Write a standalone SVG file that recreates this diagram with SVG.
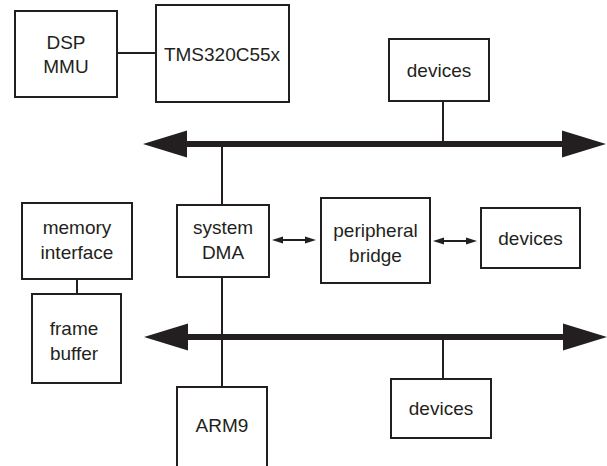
<svg xmlns="http://www.w3.org/2000/svg" width="607" height="466" viewBox="0 0 607 466">
<style>
.box{fill:#fff;stroke:#231f20;stroke-width:2}
.ln{stroke:#231f20;stroke-width:2;fill:none}
.bus{stroke:#231f20;stroke-width:6;fill:none}
text{font-family:"Liberation Sans",Arial,sans-serif;font-size:19px;fill:#231f20;text-anchor:middle}
</style>
<defs>
<marker id="big" markerUnits="userSpaceOnUse" markerWidth="46" markerHeight="28" refX="0" refY="13.5" orient="auto-start-reverse" overflow="visible">
<path d="M0,0 L44,13.5 L0,27 Z" fill="#231f20"/>
</marker>
<marker id="small" markerUnits="userSpaceOnUse" markerWidth="12" markerHeight="8" refX="0" refY="3.5" orient="auto-start-reverse" overflow="visible">
<path d="M0,0 L11,3.5 L0,7 Z" fill="#231f20"/>
</marker>
</defs>
<g id="connectors">
<line class="ln" x1="117" y1="53" x2="156" y2="53"/>
<line class="ln" x1="443" y1="101" x2="443" y2="144"/>
<line class="ln" x1="222" y1="144" x2="222" y2="205"/>
<line class="ln" x1="222" y1="277" x2="222" y2="387"/>
<line class="ln" x1="443" y1="337" x2="443" y2="379"/>
<line class="ln" x1="77" y1="279" x2="77" y2="294"/>
<line class="bus" x1="187" y1="144" x2="562" y2="144" marker-start="url(#big)" marker-end="url(#big)"/>
<line class="bus" x1="188" y1="337" x2="563" y2="337" marker-start="url(#big)" marker-end="url(#big)"/>
<line class="ln" x1="283" y1="240" x2="305" y2="240" marker-start="url(#small)" marker-end="url(#small)"/>
<line class="ln" x1="444" y1="241" x2="466" y2="241" marker-start="url(#small)" marker-end="url(#small)"/>
</g>
<g id="dsp-mmu"><rect class="box" x="15" y="11" width="102" height="86"/><text x="66" y="49">DSP</text><text x="66" y="73">MMU</text></g>
<g id="tms"><rect class="box" x="156" y="5" width="133" height="97"/><text x="222" y="61">TMS320C55x</text></g>
<g id="devices-top"><rect class="box" x="389" y="39" width="100" height="62"/><text x="439" y="77">devices</text></g>
<g id="memory-interface"><rect class="box" x="22" y="203" width="110" height="76"/><text x="77" y="234">memory</text><text x="77" y="259">interface</text></g>
<g id="system-dma"><rect class="box" x="177" y="205" width="92" height="72"/><text x="223" y="234">system</text><text x="223" y="259">DMA</text></g>
<g id="peripheral-bridge"><rect class="box" x="321" y="198" width="109" height="85"/><text x="375.5" y="237">peripheral</text><text x="375.5" y="262">bridge</text></g>
<g id="devices-right"><rect class="box" x="481" y="208" width="99" height="60"/><text x="530.5" y="245">devices</text></g>
<g id="frame-buffer"><rect class="box" x="32" y="294" width="89" height="89"/><text x="74" y="335">frame</text><text x="74" y="360">buffer</text></g>
<g id="arm9"><rect class="box" x="177" y="387" width="90" height="85"/><text x="222" y="432">ARM9</text></g>
<g id="devices-bottom"><rect class="box" x="391" y="379" width="100" height="59"/><text x="441" y="415">devices</text></g>
</svg>
